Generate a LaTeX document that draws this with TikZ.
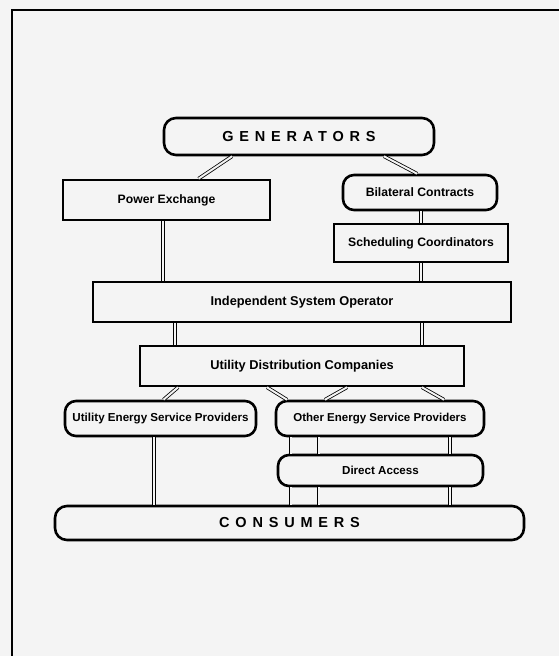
\documentclass[tikz,border=0pt]{standalone}
\usepackage{fontspec}
\setmainfont{Liberation Sans}
\newfontfamily\spacedfont[LetterSpace=40]{Liberation Sans}
\usetikzlibrary{calc}
\definecolor{bg}{HTML}{F4F4F4}
\newcommand{\fs}[1]{\fontsize{#1}{#1}\selectfont}
\begin{document}
\begin{tikzpicture}[x=1pt,y=-1pt,
  box/.style={draw=black,line width=2.6pt,fill=bg,inner sep=0pt,font=\bfseries},
  sqbox/.style={box},
  pill/.style={box,rounded corners=11pt},
  big/.style={box,rounded corners=12pt,font=\spacedfont\bfseries},
  dbl/.style={draw=black,line width=0.8pt,double=bg,double distance=2pt}]
\fill[bg] (0,0) rectangle (559,656);
\useasboundingbox (0,0) rectangle (559,656);
\draw[line width=1.4pt] (12,656) -- (12,10) -- (559,10);

\node[big,minimum width=270pt,minimum height=37pt] (gen) at (299,136.5) {\fs{14.5}GENERATORS};
\node[sqbox,minimum width=207pt,minimum height=40pt] (pe) at (166.5,200) {\fs{12.2}Power Exchange};
\node[pill,minimum width=154pt,minimum height=35pt] (bc) at (420,192.5) {\fs{12.2}Bilateral Contracts};
\node[sqbox,minimum width=174pt,minimum height=38pt] (sc) at (421,243) {\fs{12.2}Scheduling Coordinators};
\node[sqbox,minimum width=418pt,minimum height=40pt] (iso) at (302,302) {\fs{12.8}Independent System Operator};
\node[sqbox,minimum width=324pt,minimum height=40pt] (udc) at (302,366) {\fs{12.8}Utility Distribution Companies};
\node[pill,minimum width=191pt,minimum height=35pt] (uesp) at (160.5,418.5) {\fs{11.6}Utility Energy Service Providers};
\node[pill,minimum width=208pt,minimum height=35pt] (oesp) at (380,418.5) {\fs{11.5}Other Energy Service Providers};
\node[pill,minimum width=205pt,minimum height=31pt] (da) at (380.5,470.5) {\fs{11.6}Direct Access};
\node[big,minimum width=469pt,minimum height=34pt] (cons) at (289.5,523) {\fs{14.5}CONSUMERS};

% generators
\draw[dbl] ([xshift=-67pt]gen.south) -- ([xshift=32pt]pe.north);
\draw[dbl] ([xshift=85pt]gen.south) -- ([xshift=-3pt]bc.north);
% bilateral -> scheduling
\draw[dbl] ([xshift=1pt]bc.south) -- ([xshift=0pt]sc.north);
% to ISO
\draw[dbl] ([xshift=-3.5pt]pe.south) -- ([xshift=-3.5pt]pe.south |- iso.north);
\draw[dbl] (sc.south) -- (sc.south |- iso.north);
% ISO -> UDC
\draw[dbl] ([xshift=-127pt]udc.north |- iso.south) -- ([xshift=-127pt]udc.north);
\draw[dbl] ([xshift=120pt]udc.north |- iso.south) -- ([xshift=120pt]udc.north);
% UDC -> providers
\draw[dbl] ([xshift=-124pt]udc.south) -- ([xshift=3pt]uesp.north);
\draw[dbl] ([xshift=-35pt]udc.south) -- ([xshift=-93pt]oesp.north);
\draw[dbl] ([xshift=45pt]udc.south) -- ([xshift=-55pt]oesp.north);
\draw[dbl] ([xshift=120pt]udc.south) -- ([xshift=64pt]oesp.north);
% to consumers
\draw[dbl] ([xshift=-6.5pt]uesp.south) -- ([xshift=-6.5pt]uesp.south |- cons.north);
\coordinate (o1) at ($(oesp.south)+(-89.5,0)$);
\coordinate (o2) at ($(oesp.south)+(-61.5,0)$);
\coordinate (o3) at ($(oesp.south)+(70,0)$);
\coordinate (d1) at ($(da.north)+(-90,0)$);
\coordinate (d2) at ($(da.north)+(-62,0)$);
\coordinate (d3) at ($(da.north)+(69.5,0)$);
\draw[dbl] (o1) -- (d1);
\draw[dbl] (o2) -- (d2);
\draw[dbl] (o3) -- (d3);
\draw[dbl] (d1 |- da.south) -- (d1 |- cons.north);
\draw[dbl] (d2 |- da.south) -- (d2 |- cons.north);
\draw[dbl] (d3 |- da.south) -- (d3 |- cons.north);
\end{tikzpicture}
\end{document}
